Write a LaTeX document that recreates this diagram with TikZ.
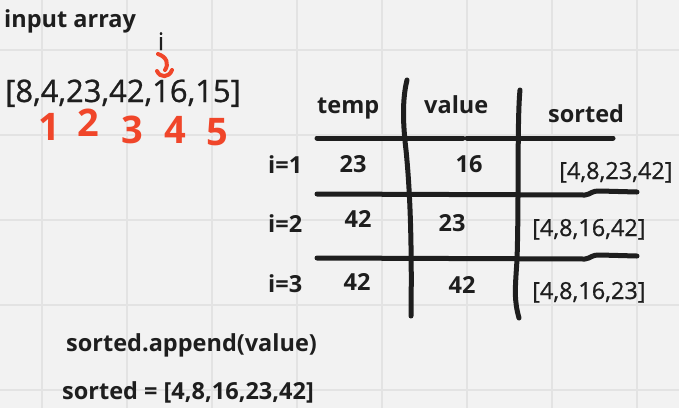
\documentclass[tikz,border=0pt]{standalone}
\usepackage{fontspec}
\setmainfont{Open Sans}
\newfontfamily\medfont{Open Sans}[FakeBold=0.8]
\usepackage{tikz}

\definecolor{ink}{HTML}{1E1E1E}
\definecolor{board}{HTML}{F2F2F2}
\definecolor{gridln}{HTML}{E3E3E3}
\definecolor{marker}{HTML}{F0462A}

\tikzset{
  pen/.style={line width=5pt, line cap=round, line join=round, draw=ink},
  head/.style={font=\fontsize{23.5}{28}\selectfont\bfseries, text=ink, inner sep=0pt},
  plain/.style={font=\fontsize{23.5}{28}\selectfont\medfont, text=ink, inner sep=0pt},
  redno/.style={font=\fontsize{38}{42}\selectfont\bfseries, text=marker, inner sep=0pt},
}

\begin{document}
\begin{tikzpicture}[x=1pt, y=-1pt]
        \fill[board] (0,0) rectangle (679,408);
        \useasboundingbox (0,0) rectangle (679,408);
        \foreach \gx in {42,127,...,637}
            \draw[gridln, line width=1.5pt] (\gx,0) -- (\gx,408);
        \foreach \gy in {50,135,...,390}
            \draw[gridln, line width=1.5pt] (0,\gy) -- (679,\gy);

        % the input
        \node[head, anchor=base west] (title) at (4,27) {input array};
        \node[plain, font=\fontsize{24}{28}\selectfont\medfont, anchor=base] (ptr) at (161,50) {i};
        \node[plain, font=\fontsize{31}{36}\selectfont\medfont, anchor=base west] (arr) at (5,102) {[8,4,23,42,16,15]};

        \draw[marker, line width=4pt, line cap=round]
            (158,54) .. controls (167,57) and (169,64) .. (165,70);
        \draw[marker, line width=4pt, line cap=round]
            (157,71) .. controls (160,78) and (169,78) .. (172,70);

        \node[redno] (n1) at (49,127) {1};
        \node[redno] (n2) at (88,123) {2};
        \node[redno] (n3) at (132,130) {3};
        \node[redno] (n4) at (175,130) {4};
        \node[redno] (n5) at (217,132) {5};

        % the table
        \draw[pen] (407,80) .. controls (402,100) and (403,125) .. (406,150)
            .. controls (410,190) and (412,240) .. (411,316);
        \draw[pen] (520,90) .. controls (517,120) and (519,200) .. (517,260)
            .. controls (515,290) and (514,300) .. (519,318);

        \draw[pen] (317,138) -- (463,138);
        \draw[pen] (467,138) -- (613,138);
        \draw[pen] (317,194) -- (585,195) .. controls (592,194) and (590,191) .. (600,191) -- (637,192);
        \draw[pen] (317,258) -- (585,259) .. controls (592,258) and (590,255) .. (600,255) -- (637,256);

        \node[head, anchor=base west] (temp) at (317,113) {temp};
        \node[head, anchor=base west] (value) at (424,113) {value};
        \node[head, anchor=base west] (sorted) at (548,122) {sorted};

        \node[head, anchor=base west] (r1) at (268,173) {i=1};
        \node[head, anchor=base west] (r2) at (268,232) {i=2};
        \node[head, anchor=base west] (r3) at (268,292) {i=3};

        \node[head, anchor=base] (t1) at (353,172) {23};
        \node[head, anchor=base] (v1) at (469,172) {16};
        \node[plain, anchor=base west] (s1) at (559,179) {[4,8,23,42]};

        \node[head, anchor=base] (t2) at (358,227) {42};
        \node[head, anchor=base] (v2) at (452,231) {23};
        \node[plain, anchor=base west] (s2) at (532,236) {[4,8,16,42]};

        \node[head, anchor=base] (t3) at (357,290) {42};
        \node[head, anchor=base] (v3) at (462,293) {42};
        \node[plain, anchor=base west] (s3) at (532,299) {[4,8,16,23]};

        % the result
        \node[head, anchor=base west] (step) at (66,351) {sorted.append(value)};
        \node[head, anchor=base west] (result) at (62,399) {sorted = [4,8,16,23,42]};
\end{tikzpicture}
\end{document}
